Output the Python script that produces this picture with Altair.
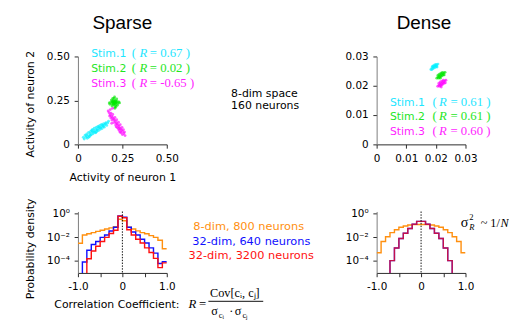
import altair as alt
import pandas as pd

# ---------------- data ----------------
stim_names = ["Stim.1", "Stim.2", "Stim.3"]
stim_colors = ["#00f0ff", "#00e600", "#ff00ff"]
stim_text_colors = ["#1ee6ff", "#1ee61e", "#ff1eff"]
sparse_r = ["0.67", "0.02", "-0.65"]
dense_r = ["0.61", "0.61", "0.60"]

# sparse clouds (activity of neuron 1, activity of neuron 2)
sparse_stim1 = [(0.030,0.040),(0.035,0.030),(0.040,0.052),(0.045,0.041),(0.050,0.060),(0.052,0.035),
    (0.058,0.050),(0.060,0.068),(0.065,0.045),(0.068,0.062),(0.072,0.075),(0.075,0.055),(0.080,0.070),
    (0.082,0.085),(0.085,0.060),(0.090,0.078),(0.092,0.092),(0.095,0.068),(0.100,0.082),(0.103,0.097),
    (0.105,0.072),(0.110,0.088),(0.112,0.102),(0.115,0.078),(0.120,0.094),(0.123,0.108),(0.125,0.085),
    (0.130,0.100),(0.133,0.114),(0.136,0.090),(0.140,0.106),(0.145,0.118),(0.148,0.098),(0.152,0.112),
    (0.158,0.124),(0.162,0.108),(0.168,0.122),(0.172,0.132),(0.060,0.040),(0.070,0.052),(0.088,0.070),
    (0.100,0.066),(0.118,0.100),(0.128,0.093),(0.143,0.102),(0.155,0.118),(0.048,0.050),(0.078,0.080),
    (0.108,0.082),(0.138,0.110)]
sparse_stim2 = [(0.205,0.237),(0.195,0.240),(0.215,0.235),(0.200,0.225),(0.210,0.250),(0.190,0.230),
    (0.220,0.245),(0.198,0.252),(0.212,0.222),(0.185,0.240),(0.225,0.232),(0.203,0.262),(0.208,0.212),
    (0.192,0.218),(0.218,0.258),(0.180,0.228),(0.230,0.242),(0.196,0.262),(0.214,0.214),(0.188,0.252),
    (0.222,0.222),(0.205,0.245),(0.200,0.232),(0.210,0.230),(0.207,0.242),(0.198,0.238),(0.213,0.244),
    (0.202,0.228),(0.194,0.246),(0.217,0.238),(0.206,0.270),(0.208,0.205),(0.176,0.236),(0.234,0.236),
    (0.200,0.242),(0.210,0.238)]
sparse_stim3 = [(0.175,0.180),(0.170,0.190),(0.182,0.168),(0.186,0.178),(0.178,0.162),(0.190,0.159),
    (0.196,0.170),(0.185,0.150),(0.200,0.145),(0.208,0.154),(0.192,0.138),(0.210,0.131),(0.218,0.140),
    (0.202,0.124),(0.220,0.117),(0.228,0.126),(0.212,0.110),(0.230,0.102),(0.238,0.112),(0.222,0.095),
    (0.240,0.088),(0.248,0.097),(0.232,0.080),(0.250,0.074),(0.256,0.084),(0.242,0.066),(0.258,0.062),
    (0.262,0.070),(0.250,0.056),(0.205,0.140),(0.215,0.122),(0.225,0.110),(0.235,0.094),(0.245,0.082),
    (0.195,0.152),(0.182,0.198),(0.195,0.205),(0.265,0.050),(0.215,0.100),(0.228,0.088),(0.190,0.120),
    (0.236,0.070)]

# dense clouds
dense_stim1 = [(0.0183,0.0256),(0.0187,0.0262),(0.0191,0.0264),(0.0195,0.0266),(0.0199,0.0268),
    (0.0203,0.0271),(0.0207,0.0274),(0.0186,0.0255),(0.0190,0.0258),(0.0194,0.0261),(0.0198,0.0263),
    (0.0202,0.0266),(0.0192,0.0269),(0.0196,0.0271),(0.0200,0.0273),(0.0188,0.0266),(0.0204,0.0264)]
dense_stim2 = [(0.0203,0.0226),(0.0207,0.0230),(0.0211,0.0233),(0.0215,0.0236),(0.0219,0.0239),
    (0.0223,0.0241),(0.0227,0.0244),(0.0231,0.0246),(0.0209,0.0226),(0.0213,0.0229),(0.0217,0.0232),
    (0.0221,0.0234),(0.0225,0.0237),(0.0207,0.0236),(0.0212,0.0240),(0.0217,0.0243),(0.0222,0.0246),
    (0.0228,0.0237),(0.0215,0.0226)]
dense_stim3 = [(0.0206,0.0198),(0.0210,0.0202),(0.0214,0.0205),(0.0218,0.0208),(0.0222,0.0211),
    (0.0226,0.0214),(0.0230,0.0217),(0.0234,0.0219),(0.0212,0.0198),(0.0216,0.0201),(0.0220,0.0203),
    (0.0224,0.0206),(0.0228,0.0209),(0.0210,0.0209),(0.0215,0.0213),(0.0220,0.0216),(0.0225,0.0219),
    (0.0232,0.0210),(0.0218,0.0196)]

# histograms of correlation coefficient (20 bins of width 0.1, None = empty bin)
bin_edges = [-1.0, -0.9, -0.8, -0.7, -0.6, -0.5, -0.4, -0.3, -0.2, -0.1, 0.0,
             0.1, 0.2, 0.3, 0.4, 0.5, 0.6, 0.7, 0.8, 0.9, 1.0]
sparse_8dim_800 = [0.0032, 0.0158, 0.020, 0.025, 0.032, 0.040, 0.050, 0.063, 0.079, 0.33,
                   0.25, 0.071, 0.050, 0.035, 0.025, 0.020, 0.014, 0.010, 0.0056, 0.0011]
sparse_32dim_640 = [None, 8.3e-5, 8.1e-4, 2.5e-3, 4.5e-3, 0.010, 0.0155, 0.034, 0.071, 0.62,
                    0.50, 0.071, 0.028, 0.0155, 0.0069, 0.0033, 0.0013, 4.7e-4, 6.3e-5, 8.9e-5]
sparse_32dim_3200 = [None, None, 1.55e-4, 7.1e-4, 1.8e-3, 4.5e-3, 0.010, 0.021, 0.039, 0.60,
                     0.45, 0.044, 0.0155, 0.0069, 0.0033, 0.0013, 5.2e-4, 1.7e-4, 2.8e-5, 7.1e-5]
dense_8dim_800 = [5.0e-4, 4.5e-3, 0.0112, 0.025, 0.044, 0.071, 0.091, 0.11, 0.117, 0.12,
                  0.12, 0.117, 0.11, 0.091, 0.071, 0.044, 0.025, 0.0112, 4.5e-3, 5.0e-4]
dense_32dim = [None, None, None, 1.1e-4, 1.26e-3, 7.9e-3, 0.022, 0.056, 0.126, 0.22,
               0.22, 0.126, 0.056, 0.022, 7.9e-3, 1.26e-3, 1.1e-4, None, None, None]
series_colors = {"orange": "#ff9010", "blue": "#1010ff", "red": "#ff1010"}

FLOOR = 1e-9
SANS = "DejaVu Sans"
SERIF = "Liberation Serif"


def cloud_df(pairs, name):
    return pd.DataFrame({"x": [p[0] for p in pairs], "y": [p[1] for p in pairs], "stim": name})


def step_df(values):
    xs, ys = [], []
    for e, v in zip(bin_edges[:-1], values):
        xs.append(e)
        ys.append(FLOOR if v is None else v)
    xs.append(bin_edges[-1])
    ys.append(ys[-1])
    return pd.DataFrame({"x": xs, "y": ys})


def txt(text, x, y, color="black", size=11.5, font=SANS, style="normal", align="left", baseline="alphabetic"):
    return alt.Chart(pd.DataFrame({"t": [text]})).mark_text(
        align=align, baseline=baseline, font=font, fontSize=size, fontStyle=style, color=color
    ).encode(x=alt.value(x), y=alt.value(y), text="t:N")


def stim_legend(rvals, x0, xp, xr, xe, y0, dy):
    out = []
    for i, (name, r) in enumerate(zip(stim_names, rvals)):
        y = y0 + i * dy
        c = stim_text_colors[i]
        out += [txt(name, x0, y, c), txt("(", xp, y, c, 13.5, SERIF),
                txt("R", xr, y, c, 13.5, SERIF, "italic"), txt("= " + r + " )", xe, y, c, 13.5, SERIF)]
    return out


def scatter(frames, dom, vals, xtitle=None, ytitle=None):
    df = pd.concat(frames)
    lab = "datum.value == 0 ? '0' : format(datum.value, '.2f')"
    return alt.Chart(df).mark_circle(size=9, opacity=0.65).encode(
        x=alt.X("x:Q", scale=alt.Scale(domain=dom, nice=False, zero=False),
                axis=alt.Axis(values=vals, labelExpr=lab, title=xtitle, domainColor="#222", titlePadding=9)),
        y=alt.Y("y:Q", scale=alt.Scale(domain=dom, nice=False, zero=False),
                axis=alt.Axis(values=vals, labelExpr=lab, title=ytitle, domainColor="#777", titleY=50)),
        color=alt.Color("stim:N", scale=alt.Scale(domain=stim_names, range=stim_colors), legend=None),
    )


# ---------------- top row ----------------
tl = alt.layer(
    scatter([cloud_df(sparse_stim1, "Stim.1"), cloud_df(sparse_stim2, "Stim.2"), cloud_df(sparse_stim3, "Stim.3")],
            [0, 0.5], [0, 0.25, 0.5], "Activity of neuron 1", "Activity of neuron 2"),
    txt("Sparse", 47, -29, size=20, font="Liberation Sans", align="center"),
    *stim_legend(sparse_r, 14, 57, 65, 76, 1, 15.5),
    txt("8-dim space", 162, 43),
    txt("160 neurons", 162, 56),
).properties(width=94, height=93)

tr = alt.layer(
    scatter([cloud_df(dense_stim1, "Stim.1"), cloud_df(dense_stim2, "Stim.2"), cloud_df(dense_stim3, "Stim.3")],
            [0, 0.03], [0, 0.01, 0.02, 0.03]),
    txt("Dense", 50, -29, size=20, font="Liberation Sans", align="center"),
    *stim_legend(dense_r, 14, 59, 66, 78, 52, 15.5),
).properties(width=94, height=93)

# ---------------- bottom row ----------------
xs_h = alt.Scale(domain=[-1, 1], nice=False, zero=False)
ys_h = alt.Scale(type="log", domain=[1e-5, 1.5], nice=False)
xlab = "datum.value == 0 ? '0' : (datum.value == -1 ? '-1.0' : (datum.value == 1 ? '1.0' : ''))"
ylab = "datum.value > 0.5 ? '10\u2070' : (datum.value > 0.005 ? '10\u207b\u00b2' : '10\u207b\u2074')"


def hist_panel(series, ytitle=None):
    xa = alt.Axis(values=[-1, -0.5, 0, 0.5, 1], labelExpr=xlab, title=None, domainColor="#222")
    ya = alt.Axis(values=[1, 0.01, 0.0001], labelExpr=ylab, title=ytitle, domainColor="#777", titleY=39)
    layers = []
    for vals, col, op in series:
        layers.append(alt.Chart(step_df(vals)).mark_line(
            interpolate="step-after", color=series_colors[col], strokeWidth=1.5, opacity=op, clip=True
        ).encode(x=alt.X("x:Q", scale=xs_h, axis=xa), y=alt.Y("y:Q", scale=ys_h, axis=ya)))
    layers.append(alt.Chart(pd.DataFrame({"x": [0.0]})).mark_rule(
        color="black", strokeDash=[1.5, 1.5], strokeWidth=1
    ).encode(x=alt.X("x:Q", scale=xs_h, axis=xa)))
    return layers


bl = alt.layer(
    *hist_panel([(sparse_8dim_800, "orange", 1.0), (sparse_32dim_640, "blue", 1.0),
                 (sparse_32dim_3200, "red", 1.0)], "Probability density"),
    txt("8-dim, 800 neurons", 122, 20, series_colors["orange"], 12),
    txt("32-dim, 640 neurons", 121, 35, series_colors["blue"], 12),
    txt("32-dim, 3200 neurons", 117, 50, series_colors["red"], 12),
    txt("Correlation Coefficient:", -25, 102, size=11.5),
    txt("R", 117, 102, size=13.5, font=SERIF, style="italic"),
    txt("=", 128, 102, size=13.5, font=SERIF),
    txt("Cov[c\u1d62, c\u2c7c]", 166, 90, size=13, font=SERIF, align="center"),
    alt.Chart(pd.DataFrame({"a": [0]})).mark_rule(color="black", strokeWidth=1).encode(
        x=alt.value(138), x2=alt.value(196), y=alt.value(95)),
    txt("\u03c3", 141, 110, size=13, font=SERIF),
    txt("c\u1d62", 149, 113, size=9, font=SERIF),
    txt("\u00b7", 160, 109, size=13, font=SERIF),
    txt("\u03c3", 166, 110, size=13, font=SERIF),
    txt("c\u2c7c", 174, 113, size=9, font=SERIF),
).properties(width=94, height=65)

br = alt.layer(
    *hist_panel([(dense_8dim_800, "orange", 1.0), (dense_32dim, "blue", 1.0), (dense_32dim, "red", 0.75)]),
    txt("\u03c3", 89, 16, size=15, font=SERIF),
    txt("2", 98, 9, size=9, font=SERIF),
    txt("R", 98, 20, size=9, font=SERIF, style="italic"),
    txt("~ 1/", 110, 16, size=13, font=SERIF),
    txt("N", 131, 16, size=13, font=SERIF, style="italic"),
).properties(width=94, height=65)

chart = alt.concat(
    tl, tr, bl, br, columns=2, spacing={"row": 71, "column": 222}, bounds="flush"
).configure_view(stroke=None).configure_axis(
    grid=False, tickColor="#222", tickSize=4, labelPadding=5, labelFont=SANS, labelFontSize=11,
    labelColor="black", titleFont=SANS, titleFontSize=11.5, titleFontWeight="normal", titleColor="black",
    titlePadding=12, labelFlush=False, labelOverlap=False,
).properties(padding={"left": 17, "top": -3, "right": 0, "bottom": 0})

chart.save("out.html", embed_options={"renderer": "svg", "actions": False})
